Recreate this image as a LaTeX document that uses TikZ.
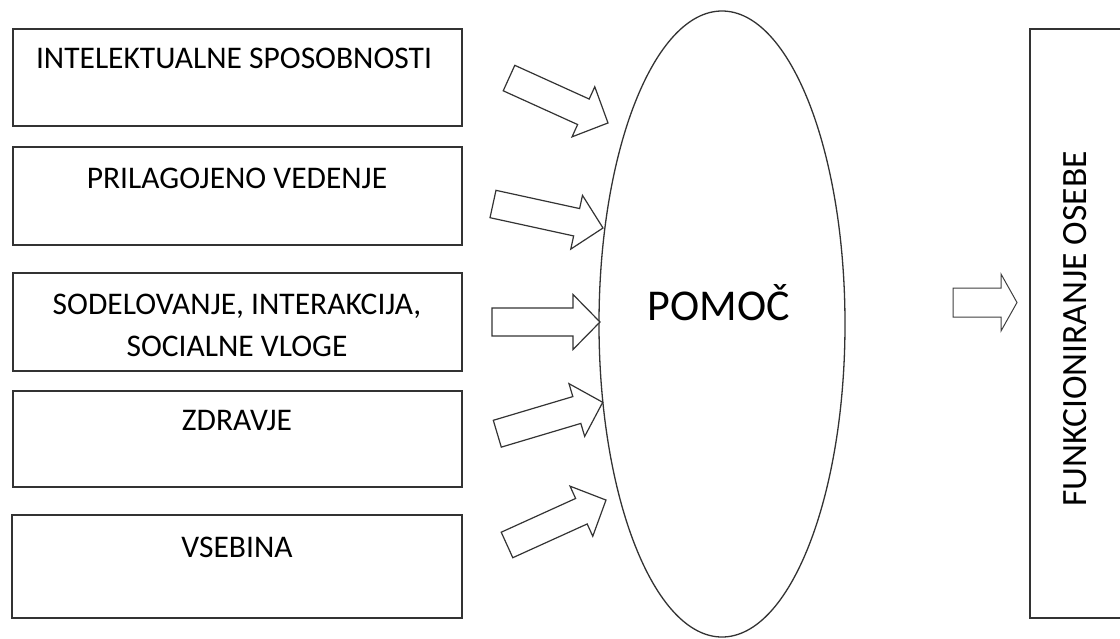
\documentclass[tikz,border=0pt]{standalone}
\usepackage{fontspec}
\setmainfont{Carlito}
\usetikzlibrary{shapes.geometric}
\begin{document}
\begin{tikzpicture}[x=1pt,y=-1pt,
  box/.style={draw=black!80, line width=1.3pt, rectangle, inner sep=0pt},
  lbl/.style={font=\fontsize{31.5}{37}\selectfont, anchor=base, inner sep=0pt, text=black},
  arrowline/.style={draw=black!80, line width=1.2pt, line join=miter, fill=white},
  pics/blockarrow/.style args={#1/#2/#3/#4}{code={
    \draw[arrowline] (-#1/2,-#2) -- (#1/2-#4,-#2) -- (#1/2-#4,-#3) -- (#1/2,0)
      -- (#1/2-#4,#3) -- (#1/2-#4,#2) -- (-#1/2,#2) -- cycle;}}
]
\useasboundingbox (0,0) rectangle (1120,638);
\fill[white] (0,0) rectangle (1120,638);

% left boxes
\node[box, minimum width=449, minimum height=97] (b1) at (237.5,77.5) {};
\node[box, minimum width=449, minimum height=98] (b2) at (237.5,196) {};
\node[box, minimum width=449, minimum height=98] (b3) at (237.5,322) {};
\node[box, minimum width=449, minimum height=96] (b4) at (237.5,439) {};
\node[box, minimum width=450, minimum height=103] (b5) at (237,566.5) {};

\node[lbl] (t1) at (234,68) {INTELEKTUALNE SPOSOBNOSTI};
\node[lbl] (t2) at (237,188) {PRILAGOJENO VEDENJE};
\node[lbl] (t3a) at (237,314) {SODELOVANJE, INTERAKCIJA,};
\node[lbl] (t3b) at (237,356) {SOCIALNE VLOGE};
\node[lbl] (t4) at (237,430) {ZDRAVJE};
\node[lbl] (t5) at (237,557) {VSEBINA};

% ellipse
\node[draw=black!80, line width=1.3pt, ellipse, minimum width=246, minimum height=626, inner sep=0pt] (el) at (722,324) {};
\node[font=\fontsize{44}{50}\selectfont, inner sep=0pt, anchor=base] (pm) at (719,320) {POMOČ};

% right box
\node[box, minimum width=105, minimum height=589] (fb) at (1082.5,323.5) {};
\node[lbl, font=\fontsize{35.5}{40}\selectfont, rotate=90, anchor=center] (ft) at (1075,329) {FUNKCIONIRANJE OSEBE};

% block arrows
\pic[rotate=-24.4] (a1) at (558.5,100.5) {blockarrow={108.7/14/27.5/27}};
\pic[rotate=-12.3] (a2) at (548,216) {blockarrow={112.6/14/27.5/27}};
\pic (a3) at (546,322) {blockarrow={108/14/27.5/27}};
\pic[rotate=16.6] (a4) at (550,418) {blockarrow={110/14/27.5/27}};
\pic[rotate=24.4] (a5) at (556.5,522.5) {blockarrow={108.7/14/27.5/27}};
\pic[arrowline/.append style={line width=1pt, draw=black!75}] (a6) at (985,302.5) {blockarrow={64/14.5/28.5/16}};
\end{tikzpicture}
\end{document}
